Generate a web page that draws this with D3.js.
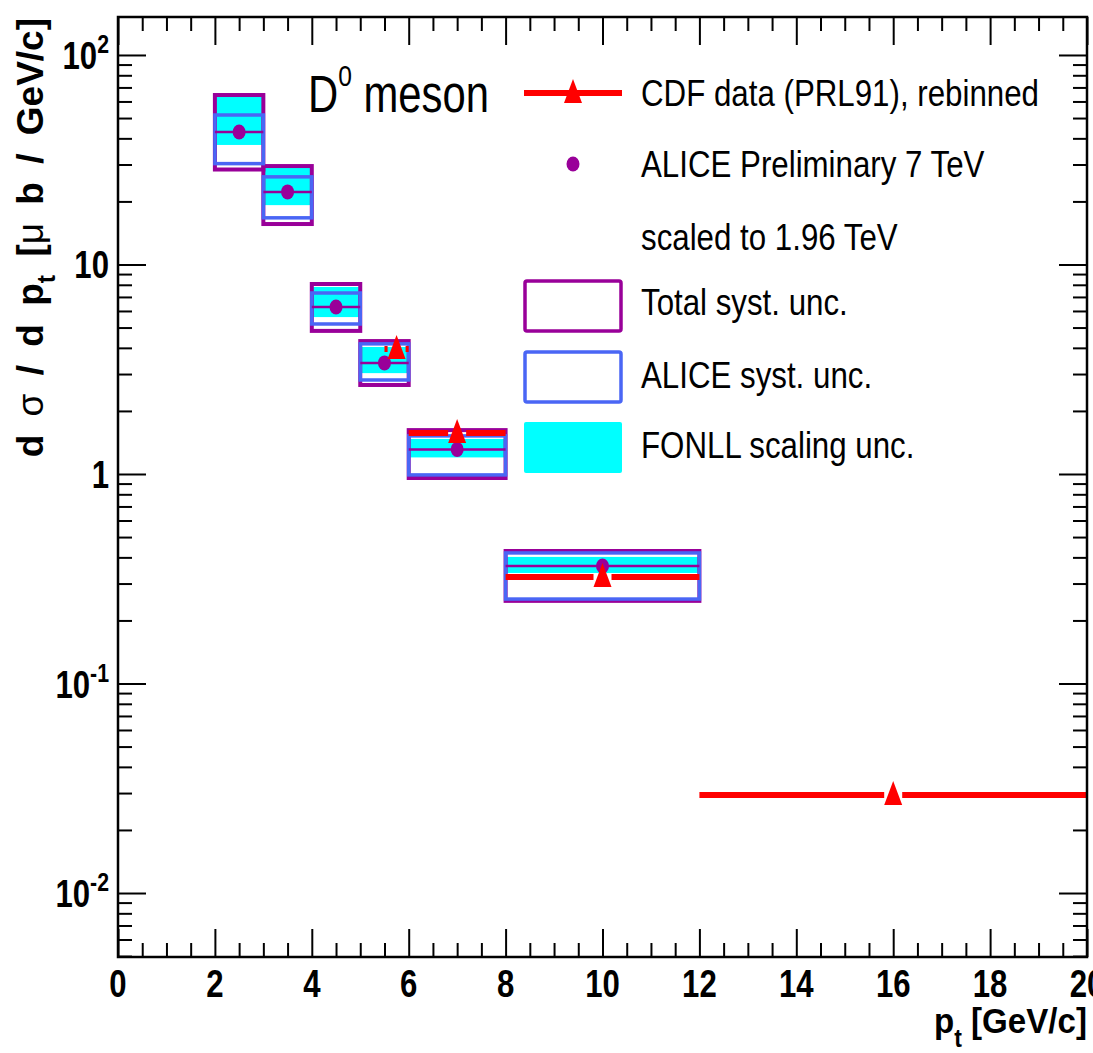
<!DOCTYPE html>
<html><head><meta charset="utf-8">
<script src="https://cdnjs.cloudflare.com/ajax/libs/d3/7.8.5/d3.min.js"></script>
<style>body{margin:0;background:#fff} svg{display:block}</style>
</head><body>
<svg id="c" width="1093" height="1053"></svg>
<script>
// ---- data ----
const binLow  = [2, 3, 4, 5, 6, 8];
const binHigh = [3, 4, 5, 6, 8, 12];
const aliceVal      = [42.9, 22.2, 6.27, 3.39, 1.31, 0.364];
const totalLow      = [28.4, 15.6, 4.82, 2.66, 0.957, 0.248];
const totalHigh     = [64.4, 29.5, 8.07, 4.31, 1.62, 0.429];
const aliceSystLow  = [30.3, 16.7, 5.2, 2.81, 0.99, 0.253];
const aliceSystHigh = [51.7, 26.2, 7.31, 4.18, 1.52, 0.42];
const fonllLow      = [37.2, 19.2, 5.61, 3.03, 1.2, 0.337];
const fonllHigh     = [63.0, 28.9, 7.81, 4.04, 1.47, 0.402];
const cdfLow  = [5.5, 6, 8, 12];
const cdfHigh = [6, 8, 12, 20];
const cdfX    = [5.75, 7, 10, 16];
const cdfVal  = [3.95, 1.57, 0.322, 0.0294];
const xTicks = [0, 2, 4, 6, 8, 10, 12, 14, 16, 18, 20];
const yTicks = [0.01, 0.1, 1, 10, 100];
const yTickBase = ["10", "10", "1", "10", "10"];
const yTickExp  = ["-2", "-1", "", "", "2"];
const legendLabels = ["CDF data (PRL91), rebinned", "ALICE Preliminary 7 TeV", "scaled to 1.96 TeV",
                      "Total syst. unc.", "ALICE syst. unc.", "FONLL scaling unc."];

// ---- style ----
const FONT = "'Liberation Sans',Arial,Helvetica,sans-serif";
const PURPLE = "#990099", BLUE = "#4a66f5", CYAN = "#00ffff", RED = "#ff0000";
const L = 118, R = 1087, T = 17, B = 957;

const svg = d3.select("#c");
const x = d3.scaleLinear().domain([0, 20]).range([L, R]);
const y = d3.scaleLog().domain([0.00495, 151.8]).range([B, T]);

function ntext(parent, px, py, size, weight, anchor, sx, rot) {
  return parent.append("text")
    .attr("transform", `translate(${px},${py})${rot ? " rotate(" + rot + ")" : ""} scale(${sx},1)`)
    .attr("text-anchor", anchor || "start")
    .attr("font-family", FONT).attr("font-weight", weight || "normal").attr("font-size", size);
}

// minor ticks
const yMinor = [];
for (let e = -3; e <= 2; e++) for (let k = 2; k <= 9; k++) {
  const v = k * Math.pow(10, e);
  if (v > y.domain()[0] && v < y.domain()[1]) yMinor.push(v);
}
const xMinor = d3.range(0, 20.01, 0.5).filter(v => v % 2 !== 0);

function styleAxis(g) {
  g.select(".domain").remove();
  g.selectAll("line").attr("stroke", "#000").attr("stroke-width", 2);
}
svg.append("g").attr("transform", `translate(0,${B})`)
  .call(d3.axisBottom(x).tickValues(xTicks).tickSize(-28).tickFormat("")).call(styleAxis);
svg.append("g").attr("transform", `translate(0,${B})`)
  .call(d3.axisBottom(x).tickValues(xMinor).tickSize(-14).tickFormat("")).call(styleAxis);
svg.append("g").attr("transform", `translate(0,${T})`)
  .call(d3.axisTop(x).tickValues(xTicks).tickSize(-28).tickFormat("")).call(styleAxis);
svg.append("g").attr("transform", `translate(0,${T})`)
  .call(d3.axisTop(x).tickValues(xMinor).tickSize(-14).tickFormat("")).call(styleAxis);
svg.append("g").attr("transform", `translate(${L},0)`)
  .call(d3.axisLeft(y).tickValues(yTicks).tickSize(-28).tickFormat("")).call(styleAxis);
svg.append("g").attr("transform", `translate(${L},0)`)
  .call(d3.axisLeft(y).tickValues(yMinor).tickSize(-14).tickFormat("")).call(styleAxis);
svg.append("g").attr("transform", `translate(${R},0)`)
  .call(d3.axisRight(y).tickValues(yTicks).tickSize(-28).tickFormat("")).call(styleAxis);
svg.append("g").attr("transform", `translate(${R},0)`)
  .call(d3.axisRight(y).tickValues(yMinor).tickSize(-14).tickFormat("")).call(styleAxis);

// data layer
const plot = svg.append("g");
const idx = d3.range(binLow.length);
plot.selectAll("rect.fonll").data(idx).join("rect")
  .attr("x", i => x(binLow[i])).attr("width", i => x(binHigh[i]) - x(binLow[i]))
  .attr("y", i => y(fonllHigh[i])).attr("height", i => y(fonllLow[i]) - y(fonllHigh[i]))
  .attr("fill", CYAN);
plot.selectAll("rect.tot").data(idx).join("rect")
  .attr("x", i => x(binLow[i])).attr("width", i => x(binHigh[i]) - x(binLow[i]))
  .attr("y", i => y(totalHigh[i])).attr("height", i => y(totalLow[i]) - y(totalHigh[i]))
  .attr("fill", "none").attr("stroke", PURPLE).attr("stroke-width", 4);
plot.selectAll("rect.als").data(idx).join("rect")
  .attr("x", i => x(binLow[i])).attr("width", i => x(binHigh[i]) - x(binLow[i]))
  .attr("y", i => y(aliceSystHigh[i])).attr("height", i => y(aliceSystLow[i]) - y(aliceSystHigh[i]))
  .attr("fill", "none").attr("stroke", BLUE).attr("stroke-width", 3.5);
plot.selectAll("line.ax").data(idx).join("line")
  .attr("x1", i => x(binLow[i])).attr("x2", i => x(binHigh[i]))
  .attr("y1", i => y(aliceVal[i])).attr("y2", i => y(aliceVal[i]))
  .attr("stroke", PURPLE).attr("stroke-width", 2.5);
plot.selectAll("ellipse.am").data(idx).join("ellipse")
  .attr("cx", i => x((binLow[i] + binHigh[i]) / 2)).attr("cy", i => y(aliceVal[i]))
  .attr("rx", 6.5).attr("ry", 7.5).attr("fill", PURPLE);

const GAP = 9;
const cidx = d3.range(cdfX.length);
plot.selectAll("line.cl").data(cidx).join("line")
  .attr("x1", i => x(cdfLow[i])).attr("x2", i => Math.max(x(cdfLow[i]), x(cdfX[i]) - GAP))
  .attr("y1", i => y(cdfVal[i])).attr("y2", i => y(cdfVal[i]))
  .attr("stroke", RED).attr("stroke-width", 6);
plot.selectAll("line.cr").data(cidx).join("line")
  .attr("x1", i => Math.min(x(cdfHigh[i]), x(cdfX[i]) + GAP)).attr("x2", i => x(cdfHigh[i]))
  .attr("y1", i => y(cdfVal[i])).attr("y2", i => y(cdfVal[i]))
  .attr("stroke", RED).attr("stroke-width", 6);
const tri = (cx, cy) => `M${cx},${cy - 14}L${cx + 9},${cy + 10}L${cx - 9},${cy + 10}Z`;
plot.selectAll("path.ct").data(cidx).join("path")
  .attr("d", i => tri(x(cdfX[i]), y(cdfVal[i]))).attr("fill", RED);

// frame
svg.append("rect").attr("x", L).attr("y", T).attr("width", R - L).attr("height", B - T)
  .attr("fill", "none").attr("stroke", "#000").attr("stroke-width", 2.5);

// tick labels
const xg = svg.append("g");
xTicks.forEach(d => ntext(xg, x(d), 997, 38, "bold", "middle", 0.82).text(d));
const yg = svg.append("g");
yTicks.forEach((d, i) => {
  const t = ntext(yg, 109, y(d) + 14, 38, "bold", "end", 0.82);
  t.append("tspan").text(yTickBase[i]);
  if (yTickExp[i]) t.append("tspan").attr("dy", -16).attr("font-size", 26).text(yTickExp[i]);
});

// axis titles
const xt = ntext(svg, R, 1033, 36, "bold", "end", 0.92);
xt.append("tspan").text("p");
xt.append("tspan").attr("dy", 14).attr("font-size", 25).text("t");
xt.append("tspan").attr("dy", -14).text(" [GeV/c]");

const ytl = ntext(svg, 43, 18, 37, "bold", "end", 1, -90).attr("word-spacing", 8);
ytl.append("tspan").text("d ");
ytl.append("tspan").attr("font-weight", "normal").text("σ");
ytl.append("tspan").text(" / d p");
ytl.append("tspan").attr("dy", 12).attr("font-size", 25).text("t");
ytl.append("tspan").attr("dy", -12).text(" [");
ytl.append("tspan").attr("font-weight", "normal").text("μ");
ytl.append("tspan").text(" b / GeV/c]");

// title text
const dt = ntext(svg, 308, 112, 51, "normal", "start", 0.82);
dt.append("tspan").text("D");
dt.append("tspan").attr("dy", -26).attr("font-size", 30).text("0");
dt.append("tspan").attr("dy", 26).text(" meson");

// legend
const LX0 = 524, LX1 = 622, LXC = 573, TX = 641;
svg.append("line").attr("x1", LX0).attr("x2", LX1).attr("y1", 93).attr("y2", 93)
  .attr("stroke", RED).attr("stroke-width", 6);
svg.append("path").attr("d", tri(LXC, 93)).attr("fill", RED);
svg.append("ellipse").attr("cx", LXC).attr("cy", 164).attr("rx", 6.5).attr("ry", 7.5).attr("fill", PURPLE);
svg.append("rect").attr("x", LX0 + 1).attr("y", 281).attr("width", LX1 - LX0 - 2).attr("height", 50)
  .attr("rx", 2).attr("fill", "none").attr("stroke", PURPLE).attr("stroke-width", 3.5);
svg.append("rect").attr("x", LX0 + 1).attr("y", 352).attr("width", LX1 - LX0 - 2).attr("height", 50)
  .attr("rx", 2).attr("fill", "none").attr("stroke", BLUE).attr("stroke-width", 3.5);
svg.append("rect").attr("x", LX0).attr("y", 422).attr("width", LX1 - LX0).attr("height", 51)
  .attr("rx", 2).attr("fill", CYAN);
const legY = [106, 177, 250, 315, 388, 458];
const lg = svg.append("g");
legendLabels.forEach((d, i) => ntext(lg, TX, legY[i], 37, "normal", "start", 0.845).text(d));
</script>
</body></html>
